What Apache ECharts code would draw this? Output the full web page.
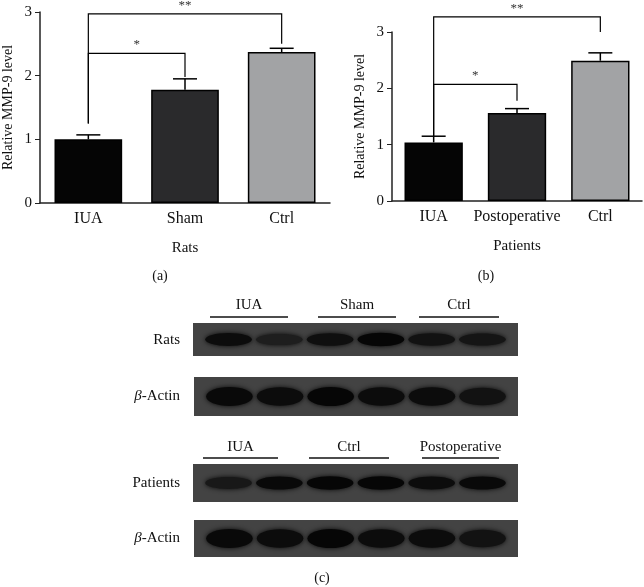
<!DOCTYPE html>
<html><head><meta charset="utf-8">
<script src="https://cdn.jsdelivr.net/npm/echarts@6/dist/echarts.min.js"></script>
<style>html,body{margin:0;background:#fff}#main{width:644px;height:587px}</style>
</head><body><div id="main"></div>
<script>
// panel (a) rats
var ratCats = ['IUA', 'Sham', 'Ctrl'];
var ratMeans = [1.0, 1.78, 2.37];
var ratErr = [0.07, 0.17, 0.06];
// panel (b) patients
var patCats = ['IUA', 'Postoperative', 'Ctrl'];
var patMeans = [1.04, 1.56, 2.49];
var patErr = [0.11, 0.08, 0.14];
var barColors = ['#050505', '#2a2a2c', '#a2a3a5'];
var yTicks = [0, 1, 2, 3];

// significance brackets: [from, to, y of line, left leg bottom, right leg bottom, label]
var ratBrackets = [[0, 2, 2.97, 1.25, 2.5, '**'], [0.1, 1, 2.35, 1.25, 1.98, '*']];
var patBrackets = [[0, 2, 3.27, 1.15, 3.0, '**'], [0.1, 1, 2.07, 1.15, 1.78, '*']];

// western blot band intensity (0 = none, 1 = strong), 6 lanes
var ratBands = [0.8, 0.5, 0.75, 0.9, 0.7, 0.65];
var ratActin = [0.85, 0.8, 0.9, 0.8, 0.8, 0.7];
var patBands = [0.6, 0.85, 0.9, 0.9, 0.8, 0.85];
var patActin = [0.85, 0.8, 0.9, 0.8, 0.8, 0.7];

var serif = 'Liberation Serif';
var chart = echarts.init(document.getElementById('main'));

function errSeries(idx, means, err) {
  return {
    type: 'custom', xAxisIndex: idx, yAxisIndex: idx, z: 1,
    data: means.map(function (m, i) { return [i, m, err[i]]; }),
    renderItem: function (params, api) {
      var base = api.coord([api.value(0), api.value(1)]);
      var top = api.coord([api.value(0), api.value(1) + api.value(2)]);
      var st = { stroke: '#000', lineWidth: 1.5 };
      return { type: 'group', children: [
        { type: 'line', shape: { x1: base[0], y1: base[1], x2: top[0], y2: top[1] }, style: st },
        { type: 'line', shape: { x1: top[0] - 12, y1: top[1], x2: top[0] + 12, y2: top[1] }, style: st }
      ] };
    }
  };
}

function bracketSeries(idx, list) {
  return {
    type: 'custom', xAxisIndex: idx, yAxisIndex: idx, z: 5, clip: false,
    data: list,
    renderItem: function (params, api) {
      var b = list[params.dataIndex];
      var a1 = api.coord([b[0], b[3]]), a2 = api.coord([b[0], b[2]]);
      var c1 = api.coord([b[1], b[2]]), c2 = api.coord([b[1], b[4]]);
      var st = { stroke: '#000', lineWidth: 1.2, fill: null };
      return { type: 'group', children: [
        { type: 'polyline', shape: { points: [a1, a2, c1, c2] }, style: st },
        { type: 'text', style: { text: b[5], x: (a2[0] + c1[0]) / 2, y: a2[1] - 2, textAlign: 'center', textVerticalAlign: 'bottom', font: '13px ' + serif, fill: '#333' } }
      ] };
    }
  };
}

function xAxis(idx, cats, name) {
  return {
    type: 'category', gridIndex: idx, data: cats, name: name, nameLocation: 'middle', nameGap: 38,
    nameTextStyle: { fontFamily: serif, fontSize: 15, color: '#111' },
    axisLine: { lineStyle: { color: '#222', width: 1.5 } },
    axisTick: { alignWithLabel: true, length: 5, lineStyle: { color: '#222' } },
    axisLabel: { interval: 0, fontFamily: serif, fontSize: 16, color: '#111', margin: 8 }
  };
}
function yAxis(idx) {
  return {
    type: 'value', gridIndex: idx, min: yTicks[0], max: yTicks[yTicks.length - 1], interval: 1,
    name: 'Relative MMP-9 level', nameLocation: 'middle', nameGap: 25,
    nameTextStyle: { fontFamily: serif, fontSize: 14, color: '#111' },
    axisLine: { show: true, lineStyle: { color: '#222', width: 1.5 } },
    axisTick: { show: true, length: 5, lineStyle: { color: '#222' } },
    axisLabel: { fontFamily: serif, fontSize: 15, color: '#111', margin: 8 },
    splitLine: { show: false }
  };
}
function barSeries(idx, means) {
  return {
    type: 'bar', xAxisIndex: idx, yAxisIndex: idx, barWidth: '70%', z: 2,
    data: means.map(function (m, i) {
      return { value: m, itemStyle: { color: barColors[i], borderColor: '#000', borderWidth: 1.5 } };
    })
  };
}

// blot graphics
var graphics = [];
function txt(t, x, y, align, size) {
  graphics.push({ type: 'text', x: x, y: y, style: { text: t, textAlign: align || 'center', textVerticalAlign: 'middle', font: (size || 13) + 'px ' + serif, fill: '#111' } });
}
function blot(x, y, w, h, bands, bh) {
  graphics.push({ type: 'rect', shape: { x: x, y: y, width: w, height: h }, style: { fill: '#434343' } });
  var laneStep = w / 6.4;
  bands.forEach(function (v, i) {
    var cx = x + laneStep * (i + 0.7);
    var g = Math.round(60 - v * 60);
    graphics.push({ type: 'ellipse', shape: { cx: cx, cy: y + h / 2, rx: laneStep * 0.46, ry: bh * (0.6 + v * 0.4) },
      style: { fill: 'rgb(' + g + ',' + g + ',' + g + ')', shadowBlur: 5, shadowColor: 'rgba(0,0,0,0.9)' } });
  });
}
function groupHead(labels, lines, yText, yLine) {
  labels.forEach(function (l, i) {
    txt(l, (lines[i][0] + lines[i][1]) / 2, yText, 'center', 15);
    graphics.push({ type: 'line', shape: { x1: lines[i][0], y1: yLine, x2: lines[i][1], y2: yLine }, style: { stroke: '#111', lineWidth: 1.3 } });
  });
}
txt('(a)', 160, 276, 'center', 14);
txt('(b)', 486, 276, 'center', 14);
txt('(c)', 322, 578, 'center', 14);
groupHead(['IUA', 'Sham', 'Ctrl'], [[210, 288], [318, 396], [419, 499]], 305, 317);
blot(193, 323, 325, 33, ratBands, 7);
blot(194, 377, 324, 39, ratActin, 10);
groupHead(['IUA', 'Ctrl', 'Postoperative'], [[203, 278], [309, 389], [422, 499]], 447, 458);
blot(193, 464, 325, 38, patBands, 7);
blot(194, 520, 324, 37, patActin, 10);
txt('Rats', 180, 340, 'right', 15);
txt('Patients', 180, 483, 'right', 15);
var actRich = { i: { fontFamily: serif, fontStyle: 'italic', fontSize: 15 }, n: { fontFamily: serif, fontSize: 15 } };
[396, 538].forEach(function (y) {
  graphics.push({ type: 'text', x: 180, y: y, style: { text: '{i|\u03b2}{n|-Actin}', rich: actRich, textAlign: 'right', textVerticalAlign: 'middle', fill: '#111' } });
});

chart.setOption({
  animation: false,
  grid: [
    { left: 40, top: 12, width: 290, height: 191 },
    { left: 392, top: 32, width: 250, height: 169 }
  ],
  xAxis: [xAxis(0, ratCats, 'Rats'), xAxis(1, patCats, 'Patients')],
  yAxis: [yAxis(0), yAxis(1)],
  series: [
    barSeries(0, ratMeans), errSeries(0, ratMeans, ratErr), bracketSeries(0, ratBrackets),
    barSeries(1, patMeans), errSeries(1, patMeans, patErr), bracketSeries(1, patBrackets)
  ],
  graphic: graphics
});
</script></body></html>
